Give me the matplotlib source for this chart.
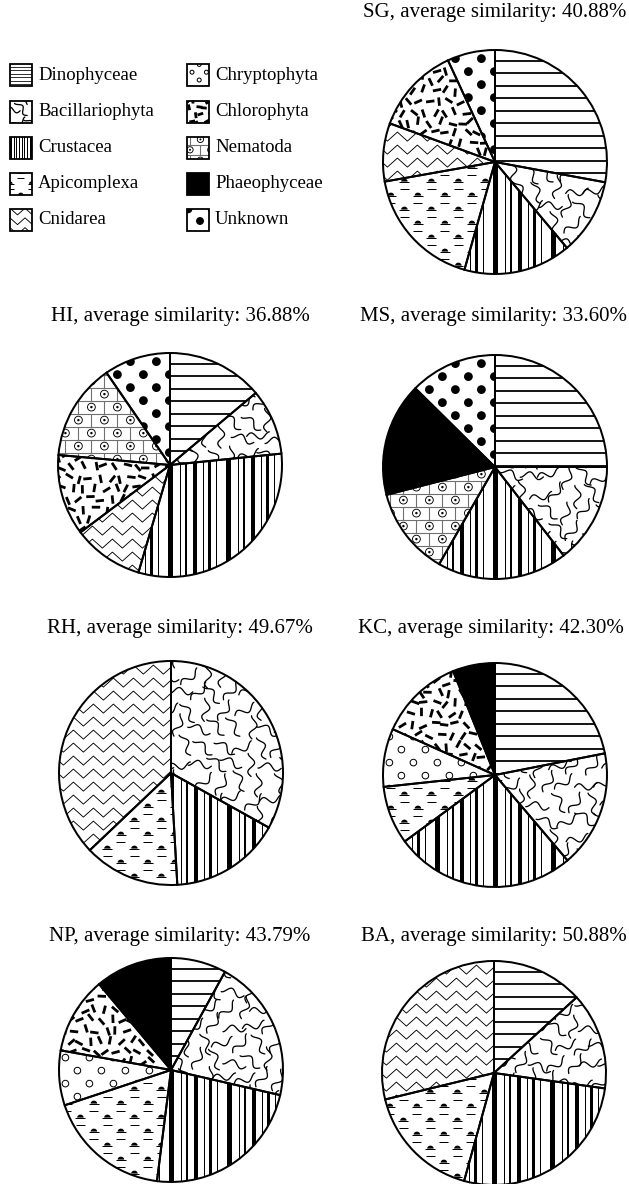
import numpy as np
import matplotlib
matplotlib.use('Agg')
import matplotlib.pyplot as plt
from matplotlib.collections import LineCollection, PatchCollection
from matplotlib.patches import Circle, Rectangle, Polygon

plt.rcParams['font.family'] = ['Liberation Serif', 'DejaVu Serif']

# ---------------- data ----------------
categories = ['Dinophyceae', 'Bacillariophyta', 'Crustacea', 'Apicomplexa',
              'Cnidarea', 'Chryptophyta', 'Chlorophyta', 'Nematoda',
              'Phaeophyceae', 'Unknown']

sites = ['SG', 'HI', 'MS', 'RH', 'KC', 'NP', 'BA']
avg_similarity = [40.88, 36.88, 33.60, 49.67, 42.30, 43.79, 50.88]

# contribution (%) of each category, in category order
SG = [27.9, 11.0, 15.5, 17.8, 8.4, 0, 12.5, 0, 0, 6.9]
HI = [13.9, 9.5, 31.2, 0, 10.2, 0, 11.7, 14.0, 0, 9.6]
MS = [25.0, 14.5, 18.8, 0, 0, 0, 0, 12.7, 16.4, 12.6]
RH = [0, 33.1, 16.0, 13.8, 37.1, 0, 0, 0, 0, 0]
KC = [21.9, 16.9, 26.1, 8.4, 0, 8.4, 12.2, 0, 6.1, 0]
NP = [8.0, 20.6, 23.4, 17.9, 0, 7.9, 11.1, 0, 11.1, 0]
BA = [13.2, 14.0, 27.1, 16.9, 28.8, 0, 0, 0, 0, 0]
site_values = [SG, HI, MS, RH, KC, NP, BA]

# ---------------- layout (pixels) ----------------
W, H = 629, 1184
DPI = 100
R = 112
centers = {'SG': (495, 162), 'HI': (170, 465), 'MS': (495, 467),
           'RH': (171, 773), 'KC': (495, 775), 'NP': (171, 1070), 'BA': (494, 1073)}
title_pos = {'SG': (495, 13), 'HI': (180, 316), 'MS': (494, 316),
             'RH': (180, 628), 'KC': (491, 628), 'NP': (180, 937), 'BA': (494, 937)}

PT = 72.0 / DPI  # px -> pt
rng = np.random.default_rng(11)


# ---------------- texture generators ----------------
def grid(b, dx, dy, stagger):
    x0, x1, y0, y1 = b
    pts = []
    k = 0
    for y in np.arange(y0 - dy, y1 + dy, dy):
        off = stagger if k % 2 else 0
        for x in np.arange(x0 - dx + off, x1 + dx, dx):
            pts.append((x, y, k))
        k += 1
    return pts


def t_hlines(b, u, s=1.0):
    x0, x1, y0, y1 = b
    sp = 12.5 * u * s
    segs = [[(x0, y), (x1, y)] for y in np.arange(y0 + sp / 2, y1 + sp, sp)]
    return [LineCollection(segs, colors='black', linewidths=max(0.8, 1.8 * s) * PT)]


def t_wavy(b, u, s=1.0):
    sp = 18 * u * s
    t = np.linspace(0, 1, 40)
    segs = []
    for (gx, gy, k) in grid(b, sp, sp, sp / 2):
        cx = gx + rng.uniform(-3, 3) * u * s
        cy = gy + rng.uniform(-3, 3) * u * s
        a = rng.uniform(0, np.pi)
        L = 23 * u * s
        A = 3.3 * u * s
        xs = (t - 0.5) * L
        ys = A * np.sin(t * 2 * np.pi * 1.25)
        ca, sa = np.cos(a), np.sin(a)
        segs.append(np.column_stack([cx + xs * ca - ys * sa, cy + xs * sa + ys * ca]))
    return [LineCollection(segs, colors='black', linewidths=1.3 * PT, capstyle='round')]


def t_barcode(b, u, s=1.0):
    x0, x1, y0, y1 = b
    period = 58 * s
    bars = [(0, 5.0), (12, 1.0), (17, 1.2), (25, 4.0), (35, 1.0), (40, 2.6), (48, 1.0)]
    rects = []
    for base in np.arange(x0, x1 + period * u, period * u):
        for off, w in bars:
            rects.append(Rectangle((base + off * s * u, y0), max(w * s, 0.9) * u, y1 - y0))
    return [PatchCollection(rects, facecolor='black', edgecolor='none')]


def t_apico(b, u, s=1.0):
    dx, dy = 27 * u * s, 14 * u * s
    dash = []
    hats = []
    for (gx, gy, k) in grid(b, dx, dy, dx / 2):
        hw, hh = 3.3 * u * s, 3.0 * u * s
        th = np.linspace(0, np.pi, 9)
        hats.append(Polygon(np.column_stack([gx + hw * np.cos(th), gy + hh * np.sin(th)]), closed=True))
        dash.append([(gx - 5.0 * u * s, gy), (gx + 5.0 * u * s, gy)])
        dash.append([(gx + dx / 2 - 4.5 * u * s, gy + dy / 2), (gx + dx / 2 + 4.5 * u * s, gy + dy / 2)])
    return [LineCollection(dash, colors='black', linewidths=1.0 * PT),
            PatchCollection(hats, facecolor='black', edgecolor='none')]


def t_zigzag(b, u, s=1.0):
    x0, x1, y0, y1 = b
    dy = 13 * u * s
    half = 10 * u * s
    amp = 4.5 * u * s
    segs = []
    for y in np.arange(y0 - dy, y1 + dy, dy):
        xs = np.arange(x0 - half, x1 + 2 * half, half)
        ys = y + amp * np.where(np.arange(len(xs)) % 2 == 0, -1, 1)
        segs.append(np.column_stack([xs, ys]))
    return [LineCollection(segs, colors='black', linewidths=0.9 * PT)]


def t_circles(b, u, s=1.0):
    pts = grid(b, 24 * u * s, 13 * u * s, 12 * u * s)
    circ = [Circle((x, y), 3.3 * u * s) for (x, y, k) in pts]
    return [PatchCollection(circ, facecolor='none', edgecolor='black', linewidths=1.0 * PT)]


def t_dashes(b, u, s=1.0):
    sp = 10.5 * u * s
    segs = []
    for (gx, gy, k) in grid(b, sp, sp, sp / 2):
        cx = gx + rng.uniform(-2.5, 2.5) * u * s
        cy = gy + rng.uniform(-2.5, 2.5) * u * s
        a = rng.uniform(0, np.pi)
        L = 4.2 * u * s
        segs.append([(cx - L * np.cos(a), cy - L * np.sin(a)), (cx + L * np.cos(a), cy + L * np.sin(a))])
    return [LineCollection(segs, colors='black', linewidths=2.8 * PT, capstyle='butt')]


def t_bricks(b, u, s=1.0):
    x0, x1, y0, y1 = b
    h, w = 13 * u * s, 26 * u * s
    lines = []
    circ = []
    dots = []
    k = 0
    for y in np.arange(y0 - h, y1 + h, h):
        lines.append([(x0 - w, y), (x1 + w, y)])
        off = (w / 2) if k % 2 else 0
        for x in np.arange(x0 - w + off, x1 + w, w):
            lines.append([(x, y), (x, y + h)])
            circ.append(Circle((x + w / 2, y + h / 2), 3.9 * u * s))
            dots.append(Circle((x + w / 2, y + h / 2), 1.2 * u * s))
        k += 1
    return [LineCollection(lines, colors='#707070', linewidths=1.1 * PT),
            PatchCollection(circ, facecolor='none', edgecolor='black', linewidths=0.9 * PT),
            PatchCollection(dots, facecolor='black', edgecolor='none')]


def t_bigdots(b, u, s=1.0):
    pts = grid(b, 26 * u * s, 13 * u * s, 13 * u * s)
    circ = [Circle((x, y), 4.4 * u * s) for (x, y, k) in pts]
    return [PatchCollection(circ, facecolor='black', edgecolor='none')]


def t_none(b, u, s=1.0):
    return []


textures = {'Dinophyceae': t_hlines, 'Bacillariophyta': t_wavy, 'Crustacea': t_barcode,
            'Apicomplexa': t_apico, 'Cnidarea': t_zigzag, 'Chryptophyta': t_circles,
            'Chlorophyta': t_dashes, 'Nematoda': t_bricks, 'Phaeophyceae': t_none,
            'Unknown': t_bigdots}
solid = {'Phaeophyceae': 'black'}


def add_texture(ax, cat, b, u, clip, s=1.0):
    for art in textures[cat](b, u, s):
        art.set_zorder(2)
        ax.add_collection(art, autolim=False)
        art.set_clip_path(clip)


# ---------------- figure ----------------
fig = plt.figure(figsize=(W / DPI, H / DPI), dpi=DPI)
fig.patch.set_facecolor('white')

pad = 1.06
u = 1.0 / R
for site, sim, vals in zip(sites, avg_similarity, site_values):
    cx, cy = centers[site]
    ax = fig.add_axes([(cx - R * pad) / W, (H - cy - R * pad) / H, 2 * R * pad / W, 2 * R * pad / H])
    cats = [c for c, v in zip(categories, vals) if v > 0]
    vv = [v for v in vals if v > 0]
    wedges, _ = ax.pie(vv, startangle=90, counterclock=False, radius=1,
                       colors=[solid.get(c, 'none') for c in cats],
                       wedgeprops=dict(edgecolor='black', linewidth=2.0 * PT, zorder=3))
    for wdg, c in zip(wedges, cats):
        add_texture(ax, c, (-1.05, 1.05, -1.05, 1.05), u, wdg)
    ax.set_xlim(-pad, pad)
    ax.set_ylim(-pad, pad)
    ax.set_aspect('equal')
    ax.axis('off')
    tx, ty = title_pos[site]
    fig.text(tx / W, 1 - ty / H, f'{site}, average similarity: {sim:.2f}%',
             ha='center', va='center', fontsize=15)

# ---------------- legend ----------------
LH = 250
lax = fig.add_axes([0, (H - LH) / H, 330 / W, LH / H])
lax.set_xlim(0, 330)
lax.set_ylim(0, LH)
lax.axis('off')
row_y = [75, 112, 148, 184, 220]
col_x = [10, 187]
box = 22
legend_scale = {'Dinophyceae': 0.28, 'Crustacea': 0.35, 'Bacillariophyta': 0.75,
                'Cnidarea': 0.75, 'Chryptophyta': 0.6, 'Chlorophyta': 0.7,
                'Apicomplexa': 0.8, 'Nematoda': 0.8, 'Unknown': 0.9, 'Phaeophyceae': 1.0}
# texture origin shift inside the key box (pixels)
legend_shift = {'Unknown': (13, 21.7), 'Nematoda': (3, 4), 'Chryptophyta': (5, 6)}
for i, cat in enumerate(categories):
    col, row = divmod(i, 5)
    x0 = col_x[col]
    yc = LH - row_y[row]
    y0 = yc - box / 2
    rect = Rectangle((x0, y0), box, box, facecolor=solid.get(cat, 'none'),
                     edgecolor='none', zorder=1)
    lax.add_patch(rect)
    frame = Rectangle((x0, y0), box, box, facecolor='none', edgecolor='black',
                      linewidth=1.8 * PT, zorder=4)
    lax.add_patch(frame)
    sx, sy = legend_shift.get(cat, (0, 0))
    add_texture(lax, cat, (x0 + sx, x0 + box + 30, y0 + sy, y0 + box + 30), 1.0, rect,
                s=legend_scale[cat])
    lax.text(x0 + box + 6, yc, cat, ha='left', va='center', fontsize=13.5)

fig.savefig('out.png', dpi=DPI, facecolor='white')
